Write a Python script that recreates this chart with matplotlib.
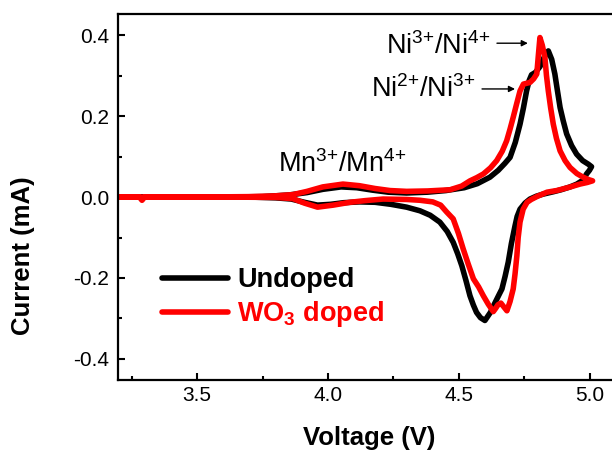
import matplotlib
matplotlib.use("Agg")
import matplotlib.pyplot as plt
from matplotlib.ticker import MultipleLocator

plt.rcParams['font.family'] = ['Liberation Sans', 'DejaVu Sans']
plt.rcParams['mathtext.fontset'] = 'custom'
plt.rcParams['mathtext.rm'] = 'Liberation Sans'
plt.rcParams['mathtext.it'] = 'Liberation Sans:italic'
plt.rcParams['mathtext.bf'] = 'Liberation Sans:bold'
plt.rcParams['axes.unicode_minus'] = False

# CV loops: anodic sweep 3.2 -> 5.0 V, then cathodic back
undoped_v = [3.20, 3.40, 3.60, 3.75, 3.85, 3.92, 3.98, 4.05, 4.11, 4.17, 4.23, 4.30,
             4.38, 4.45, 4.52, 4.57, 4.618, 4.65, 4.675, 4.695, 4.715, 4.733, 4.746,
             4.758, 4.768, 4.777, 4.792, 4.809, 4.825, 4.841, 4.854, 4.866, 4.876,
             4.886, 4.898, 4.911, 4.93, 4.949, 4.972, 4.994, 5.006,
             4.998, 4.987, 4.974, 4.95, 4.924, 4.89, 4.86, 4.82, 4.795, 4.771, 4.752,
             4.733, 4.722, 4.714, 4.70, 4.688, 4.676, 4.664, 4.65, 4.637, 4.62, 4.599,
             4.582, 4.567, 4.555, 4.542, 4.527, 4.511, 4.495, 4.478, 4.455, 4.427,
             4.39, 4.351, 4.30, 4.24, 4.18, 4.12, 4.06, 4.01, 3.96, 3.91, 3.86, 3.80,
             3.70, 3.50, 3.20]
undoped_i = [0.0, 0.0, 0.0, 0.001, 0.005, 0.011, 0.019, 0.025, 0.023, 0.017, 0.012, 0.010,
             0.012, 0.016, 0.023, 0.033, 0.049, 0.066, 0.083, 0.098, 0.135, 0.18, 0.22,
             0.262, 0.288, 0.302, 0.308, 0.322, 0.345, 0.361, 0.34, 0.304, 0.262,
             0.221, 0.188, 0.156, 0.127, 0.106, 0.09, 0.081, 0.075,
             0.066, 0.057, 0.042, 0.032, 0.025, 0.018, 0.013, 0.007, 0.002, -0.005, -0.015,
             -0.030, -0.048, -0.071, -0.115, -0.161, -0.196, -0.227, -0.245, -0.262, -0.285, -0.305,
             -0.298, -0.285, -0.267, -0.244, -0.207, -0.17, -0.14, -0.112, -0.085, -0.062,
             -0.045, -0.034, -0.025, -0.018, -0.013, -0.012, -0.014, -0.018, -0.020, -0.013, -0.005, -0.002,
             0.0, 0.0, 0.0]

doped_v = [3.20, 3.28, 3.29, 3.30, 3.50, 3.70, 3.80, 3.866, 3.92, 3.98, 4.057, 4.12, 4.18,
           4.237, 4.30, 4.38, 4.466, 4.51, 4.542, 4.568, 4.593, 4.62, 4.644, 4.665, 4.682,
           4.695, 4.707, 4.72, 4.733, 4.746, 4.758, 4.771, 4.785, 4.797, 4.803, 4.809,
           4.818, 4.828, 4.834, 4.841, 4.85, 4.86, 4.872, 4.886, 4.905, 4.924, 4.95,
           4.974, 4.995, 5.01,
           4.99, 4.962, 4.92, 4.873, 4.836, 4.80, 4.776, 4.76, 4.745, 4.733, 4.726, 4.721,
           4.714, 4.707, 4.695, 4.683, 4.672, 4.66, 4.649, 4.64, 4.631, 4.612, 4.593,
           4.575, 4.555, 4.535, 4.516, 4.498, 4.478, 4.453, 4.43, 4.40, 4.351, 4.30,
           4.21, 4.14, 4.084, 4.02, 3.96, 3.91, 3.866, 3.80, 3.60, 3.40, 3.20]
doped_i = [0.0, 0.0, -0.008, 0.0, 0.0, 0.001, 0.003, 0.006, 0.014, 0.025, 0.032, 0.028, 0.021,
           0.016, 0.014, 0.015, 0.018, 0.027, 0.040, 0.048, 0.057, 0.072, 0.09, 0.113, 0.139,
           0.168, 0.197, 0.23, 0.262, 0.279, 0.281, 0.283, 0.292, 0.304, 0.35, 0.394,
           0.375, 0.345, 0.30, 0.262, 0.22, 0.18, 0.145, 0.114, 0.09, 0.073, 0.058,
           0.049, 0.043, 0.040,
           0.036, 0.032, 0.024, 0.016, 0.012, 0.002, -0.006, -0.013, -0.03, -0.062, -0.1, -0.145,
           -0.19, -0.227, -0.258, -0.281, -0.272, -0.262, -0.266, -0.275, -0.283, -0.265, -0.244,
           -0.222, -0.202, -0.165, -0.128, -0.09, -0.054, -0.037, -0.02, -0.012, -0.008, -0.006,
           -0.005, -0.009, -0.013, -0.02, -0.025, -0.015, -0.004, -0.001, 0.0, 0.0, 0.0]

series_labels = ['Undoped', r'WO$_\mathbf{3}$ doped']
series_colors = ['black', '#ff0000']


def make_plot():
    fig = plt.figure(figsize=(6.12, 4.58), dpi=100)
    ax = fig.add_axes([0.1935, 0.1703, 0.821, 0.799])

    ax.plot(undoped_v, undoped_i, color=series_colors[0], lw=4, label=series_labels[0],
            solid_joinstyle='round', solid_capstyle='round')
    ax.plot(doped_v, doped_i, color=series_colors[1], lw=4, label=series_labels[1],
            solid_joinstyle='round', solid_capstyle='round')

    ax.set_xlim(3.2, 5.118)
    ax.set_ylim(-0.452, 0.452)
    ax.xaxis.set_major_locator(MultipleLocator(0.5))
    ax.xaxis.set_minor_locator(MultipleLocator(0.25))
    ax.yaxis.set_major_locator(MultipleLocator(0.2))
    ax.yaxis.set_minor_locator(MultipleLocator(0.1))
    ax.tick_params(which='both', direction='in', width=1.5, labelsize=15)
    ax.tick_params(which='major', length=5)
    ax.tick_params(which='minor', length=3)
    ax.tick_params(axis='x', pad=4)
    ax.tick_params(axis='y', pad=6.5)
    for s in ax.spines.values():
        s.set_linewidth(1.6)

    ax.set_xlabel('Voltage (V)', fontsize=18.5, fontweight='bold')
    ax.set_ylabel('Current (mA)', fontsize=18.5, fontweight='bold')
    ax.xaxis.set_label_coords(0.5, -0.125)
    ax.yaxis.set_label_coords(-0.166, 0.339)

    # peak labels
    ax.text(4.618, 0.353, r'Ni$^{3{+}}$/Ni$^{4{+}}$', fontsize=19.5, ha='right', va='baseline')
    ax.text(4.561, 0.247, r'Ni$^{2{+}}$/Ni$^{3{+}}$', fontsize=19.5, ha='right', va='baseline')
    ax.text(3.809, 0.062, r'Mn$^{3{+}}$/Mn$^{4{+}}$', fontsize=19.5, ha='left', va='baseline')
    arrow = dict(arrowstyle='-|>', color='black', lw=1.0, mutation_scale=9, shrinkA=0, shrinkB=0)
    ax.annotate('', xy=(4.763, 0.380), xytext=(4.645, 0.380), arrowprops=arrow)
    ax.annotate('', xy=(4.714, 0.267), xytext=(4.588, 0.267), arrowprops=arrow)

    leg = ax.legend(loc='center left', bbox_to_anchor=(0.0868, 0.223), frameon=False,
                    prop={'size': 19.5, 'weight': 'bold'}, handlelength=2.45,
                    handletextpad=0.33, labelspacing=0.22, borderpad=0, borderaxespad=0)
    for txt, c in zip(leg.get_texts(), series_colors):
        txt.set_color(c)

    fig.savefig('out.png', dpi=100)


if __name__ == '__main__':
    make_plot()
